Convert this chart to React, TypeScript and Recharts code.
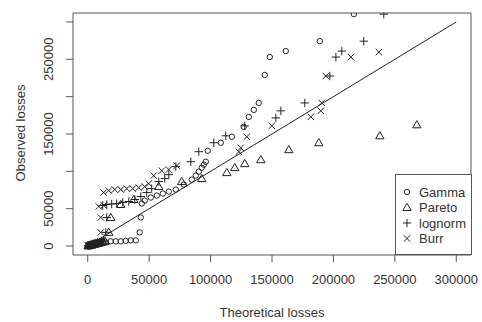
import {
  ReferenceArea,
  ReferenceLine,
  Scatter,
  ScatterChart,
  XAxis,
  YAxis,
} from "recharts";

const FONT = "'Liberation Sans', Arial, sans-serif";
const INK = "#222";
const AXIS = "#555";
const TEXT = "#333";

const AXIS_TICKS = [0, 50000, 100000, 150000, 200000, 250000, 300000];
// R drops the y labels that would overlap
const Y_LABELS = [0, 50000, 150000, 250000];
const DOMAIN: [number, number] = [-12000, 312000];
const IDENTITY = [0, 300000];

const gammaX = [
  300, 900, 1600, 2400, 3300, 4300, 5400, 6600, 8000, 9500, 11000, 12700,
  14500, 18700, 22800, 26900, 30900, 35000, 39100, 42300, 43200, 44000, 46400,
  51300, 56200, 61100, 66000, 71700, 78200, 84700, 87900, 90400, 92800, 94500,
  96100, 97700, 108300, 117300, 127000, 131100, 135200, 139200, 144100,
  148200, 161200, 188900, 216600,
];
const gammaY = [
  200, 500, 800, 1100, 1500, 1900, 2400, 2900, 3400, 3900, 4400, 4900, 5400,
  6300, 6300, 6300, 6900, 7600, 7600, 18300, 38300, 56900, 60900, 64900, 67600,
  70300, 72900, 75600, 82300, 88900, 94300, 99600, 104900, 108900, 112900,
  127600, 138300, 146300, 159600, 172900, 182300, 191600, 229000, 253000,
  261000, 274300, 310500,
];

const paretoX = [
  300, 900, 1600, 2400, 3300, 4300, 5400, 6600, 7900, 9300, 10800, 12400,
  14000, 17100, 18700, 26900, 37500, 57800, 76500, 92800, 113200, 119700,
  127800, 140900, 163700, 188100, 237800, 267900,
];
const paretoY = [
  200, 500, 800, 1100, 1500, 1900, 2400, 2900, 3400, 4000, 4700, 5500, 6300,
  18300, 38300, 55600, 62300, 79600, 86300, 90300, 98300, 105000, 110300,
  115600, 129000, 138300, 147600, 162300,
];

const lognormX = [
  200, 700, 1300, 2000, 2800, 3700, 4700, 5800, 7000, 8300, 9700, 11200, 12800,
  14700, 15500, 12200, 15500, 19500, 23600, 28500, 33400, 38300, 43200, 48000,
  52100, 57800, 62700, 66000, 71700, 83900, 90400, 102600, 112400, 127800,
  153100, 157200, 176700, 197100, 202000, 206800, 224700, 241000,
];
const lognormY = [
  300, 600, 900, 1300, 1700, 2100, 2600, 3100, 3700, 4300, 5000, 5800, 6600,
  18300, 38300, 54300, 55600, 56300, 56900, 58300, 59600, 62300, 66300, 71600,
  76900, 86300, 90300, 95600, 106300, 112900, 126300, 138300, 147600, 160900,
  171600, 181000, 191600, 227600, 253000, 261000, 274300, 310500,
];

const burrX = [
  200, 600, 1100, 1700, 2400, 3200, 4100, 5100, 6200, 7400, 8700, 10100, 11600,
  10600, 10600, 9000, 13000, 13000, 17100, 22000, 26900, 31800, 36600, 41500,
  46400, 49700, 53700, 60300, 66000, 72500, 123000, 124600, 129500, 149800,
  181600, 189700, 190500, 193800, 214200, 237000,
];
const burrY = [
  300, 600, 1000, 1400, 1800, 2300, 2800, 3400, 4000, 4700, 5400, 6200, 7000,
  18300, 38300, 52900, 54300, 71600, 74300, 75600, 75600, 76900, 76900, 78200,
  79600, 83600, 94300, 100900, 102300, 107600, 126300, 131600, 146300, 160900,
  172900, 181000, 191600, 227600, 253000, 259600,
];

type Kind = "circle" | "triangle" | "plus" | "cross";

const SERIES: { name: string; kind: Kind; xs: number[]; ys: number[] }[] = [
  { name: "Gamma", kind: "circle", xs: gammaX, ys: gammaY },
  { name: "Pareto", kind: "triangle", xs: paretoX, ys: paretoY },
  { name: "lognorm", kind: "plus", xs: lognormX, ys: lognormY },
  { name: "Burr", kind: "cross", xs: burrX, ys: burrY },
];

function Marker({ cx, cy, kind }: { cx: number; cy: number; kind: Kind }) {
  const common = { fill: "none", stroke: INK, strokeWidth: 1 };
  if (kind === "circle") return <circle cx={cx} cy={cy} r={2.7} {...common} />;
  if (kind === "triangle")
    return (
      <path
        d={`M${cx},${cy - 4.2} L${cx + 4.2},${cy + 3} L${cx - 4.2},${cy + 3} Z`}
        {...common}
      />
    );
  if (kind === "plus")
    return (
      <path
        d={`M${cx - 4.2},${cy} H${cx + 4.2} M${cx},${cy - 4.2} V${cy + 4.2}`}
        {...common}
      />
    );
  return (
    <path
      d={`M${cx - 3.2},${cy - 3.2} L${cx + 3.2},${cy + 3.2} M${cx - 3.2},${cy + 3.2} L${cx + 3.2},${cy - 3.2}`}
      {...common}
    />
  );
}

function YTick({ y, payload }: any) {
  if (!Y_LABELS.includes(payload.value)) return null;
  return (
    <text
      x={53}
      y={y}
      transform={`rotate(-90 53 ${y})`}
      textAnchor="middle"
      fontSize={13}
      fontFamily={FONT}
      fill={TEXT}
    >
      {payload.value}
    </text>
  );
}

export default function App() {
  return (
    <div
      style={{
        position: "absolute",
        left: 0,
        top: 0,
        width: 482,
        height: 322,
        background: "#fff",
        fontFamily: FONT,
      }}
    >
      <ScatterChart
        width={482}
        height={322}
        margin={{ top: 13, right: 11, bottom: 0, left: 0 }}
      >
        <XAxis
          type="number"
          dataKey="x"
          domain={DOMAIN}
          allowDataOverflow
          ticks={AXIS_TICKS}
          interval={0}
          height={67}
          axisLine={false}
          tickLine={{ stroke: AXIS }}
          tickSize={7}
          tickMargin={13}
          tick={{ fontSize: 13, fill: TEXT, fontFamily: FONT }}
        />
        <YAxis
          type="number"
          dataKey="y"
          domain={DOMAIN}
          allowDataOverflow
          ticks={AXIS_TICKS}
          interval={0}
          width={73}
          axisLine={false}
          tickLine={{ stroke: AXIS }}
          tickSize={7}
          tick={<YTick />}
        />
        <ReferenceArea
          x1={DOMAIN[0]}
          x2={DOMAIN[1]}
          y1={DOMAIN[0]}
          y2={DOMAIN[1]}
          fill="none"
          stroke={AXIS}
          strokeWidth={1}
          fillOpacity={0}
        />
        <ReferenceLine
          segment={[
            { x: IDENTITY[0], y: IDENTITY[0] },
            { x: IDENTITY[1], y: IDENTITY[1] },
          ]}
          stroke={INK}
          strokeWidth={1}
        />
        {SERIES.map((s) => (
          <Scatter
            key={s.name}
            name={s.name}
            data={s.xs.map((x, i) => ({ x, y: s.ys[i] }))}
            isAnimationActive={false}
            shape={(p: any) => <Marker cx={p.cx} cy={p.cy} kind={s.kind} />}
          />
        ))}
      </ScatterChart>
      <svg
        width={482}
        height={322}
        style={{ position: "absolute", left: 0, top: 0, pointerEvents: "none" }}
      >
        <text
          x={272}
          y={316.5}
          textAnchor="middle"
          fontSize={13}
          fontFamily={FONT}
          fill={TEXT}
        >
          Theoretical losses
        </text>
        <text
          x={24.5}
          y={133}
          transform="rotate(-90 24.5 133)"
          textAnchor="middle"
          fontSize={13}
          fontFamily={FONT}
          fill={TEXT}
        >
          Observed losses
        </text>
        <rect
          x={395.5}
          y={174.5}
          width={76}
          height={80}
          fill="#fff"
          stroke={AXIS}
          strokeWidth={1}
        />
        {SERIES.map((s, i) => (
          <g key={s.name}>
            <Marker cx={407} cy={192 + i * 15.5} kind={s.kind} />
            <text
              x={419}
              y={192 + i * 15.5 + 4.6}
              fontSize={13}
              fontFamily={FONT}
              fill={TEXT}
            >
              {s.name}
            </text>
          </g>
        ))}
      </svg>
    </div>
  );
}
